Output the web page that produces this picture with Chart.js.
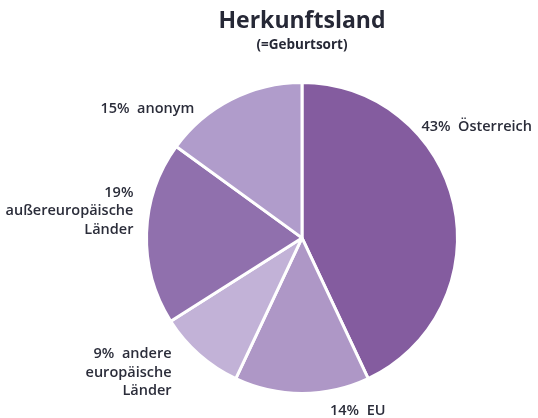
<!DOCTYPE html>
<html>
<head>
<meta charset="utf-8">
<script src="https://cdn.jsdelivr.net/npm/chart.js@4.4.1/dist/chart.umd.min.js"></script>
<style>
html,body{margin:0;padding:0;background:#fff;}
#wrap{width:538px;height:418px;position:relative;}
</style>
</head>
<body>
<div id="wrap"><canvas id="c" width="538" height="418"></canvas></div>
<script>
const categories = ["Österreich", "EU", "andere europäische Länder", "außereuropäische Länder", "anonym"];
const values = [43, 14, 9, 19, 15];
const labelLines = [
  ["43%  Österreich"],
  ["14%  EU"],
  ["9%  andere", "europäische", "Länder"],
  ["19%", "außereuropäische", "Länder"],
  ["15%  anonym"]
];
const colors = ["#845c9f", "#ae97c6", "#c2b2d7", "#9070ad", "#b09ccb"];

// label anchors relative to pie centre, in units of radius, plus alignment
const labelPlace = [
  {fx: 0.768, fy: -0.716, align: "left"},
  {fx: 0.18, fy: 1.11, align: "left"},
  {fx: -0.839, fy: 0.748, align: "right"},
  {fx: -1.084, fy: -0.29, align: "right"},
  {fx: -0.994, fy: -0.832, align: "center"}
];

const labelPlugin = {
  id: "sliceLabels",
  afterDraw(chart) {
    const ctx = chart.ctx;
    const arc = chart.getDatasetMeta(0).data[0];
    const cx = arc.x, cy = arc.y, r = arc.outerRadius;
    ctx.save();
    ctx.font = "600 14.5px 'Open Sans'";
    ctx.fillStyle = "#2b2d3a";
    ctx.textBaseline = "middle";
    labelLines.forEach((lines, i) => {
      const p = labelPlace[i];
      ctx.textAlign = p.align;
      lines.forEach((t, k) => {
        ctx.fillText(t, cx + p.fx * r, cy + p.fy * r + k * 18.5);
      });
    });
    ctx.restore();
  }
};

new Chart(document.getElementById("c"), {
  type: "pie",
  data: {
    labels: categories,
    datasets: [{
      data: values,
      backgroundColor: colors,
      borderColor: "#ffffff",
      borderWidth: 3
    }]
  },
  options: {
    responsive: false,
    animation: false,
    layout: {padding: {left: 145, right: 79, top: 0, bottom: 23}},
    plugins: {
      legend: {display: false},
      tooltip: {enabled: false},
      title: {
        display: true,
        text: "Herkunftsland",
        color: "#262836",
        font: {family: "'Open Sans'", size: 23, weight: "bold"},
        padding: {top: 8, bottom: 0}
      },
      subtitle: {
        display: true,
        text: "(=Geburtsort)",
        color: "#262836",
        font: {family: "'Open Sans'", size: 13.5, weight: "bold"},
        padding: {top: 1, bottom: 28}
      }
    }
  },
  plugins: [labelPlugin]
});
</script>
</body>
</html>
